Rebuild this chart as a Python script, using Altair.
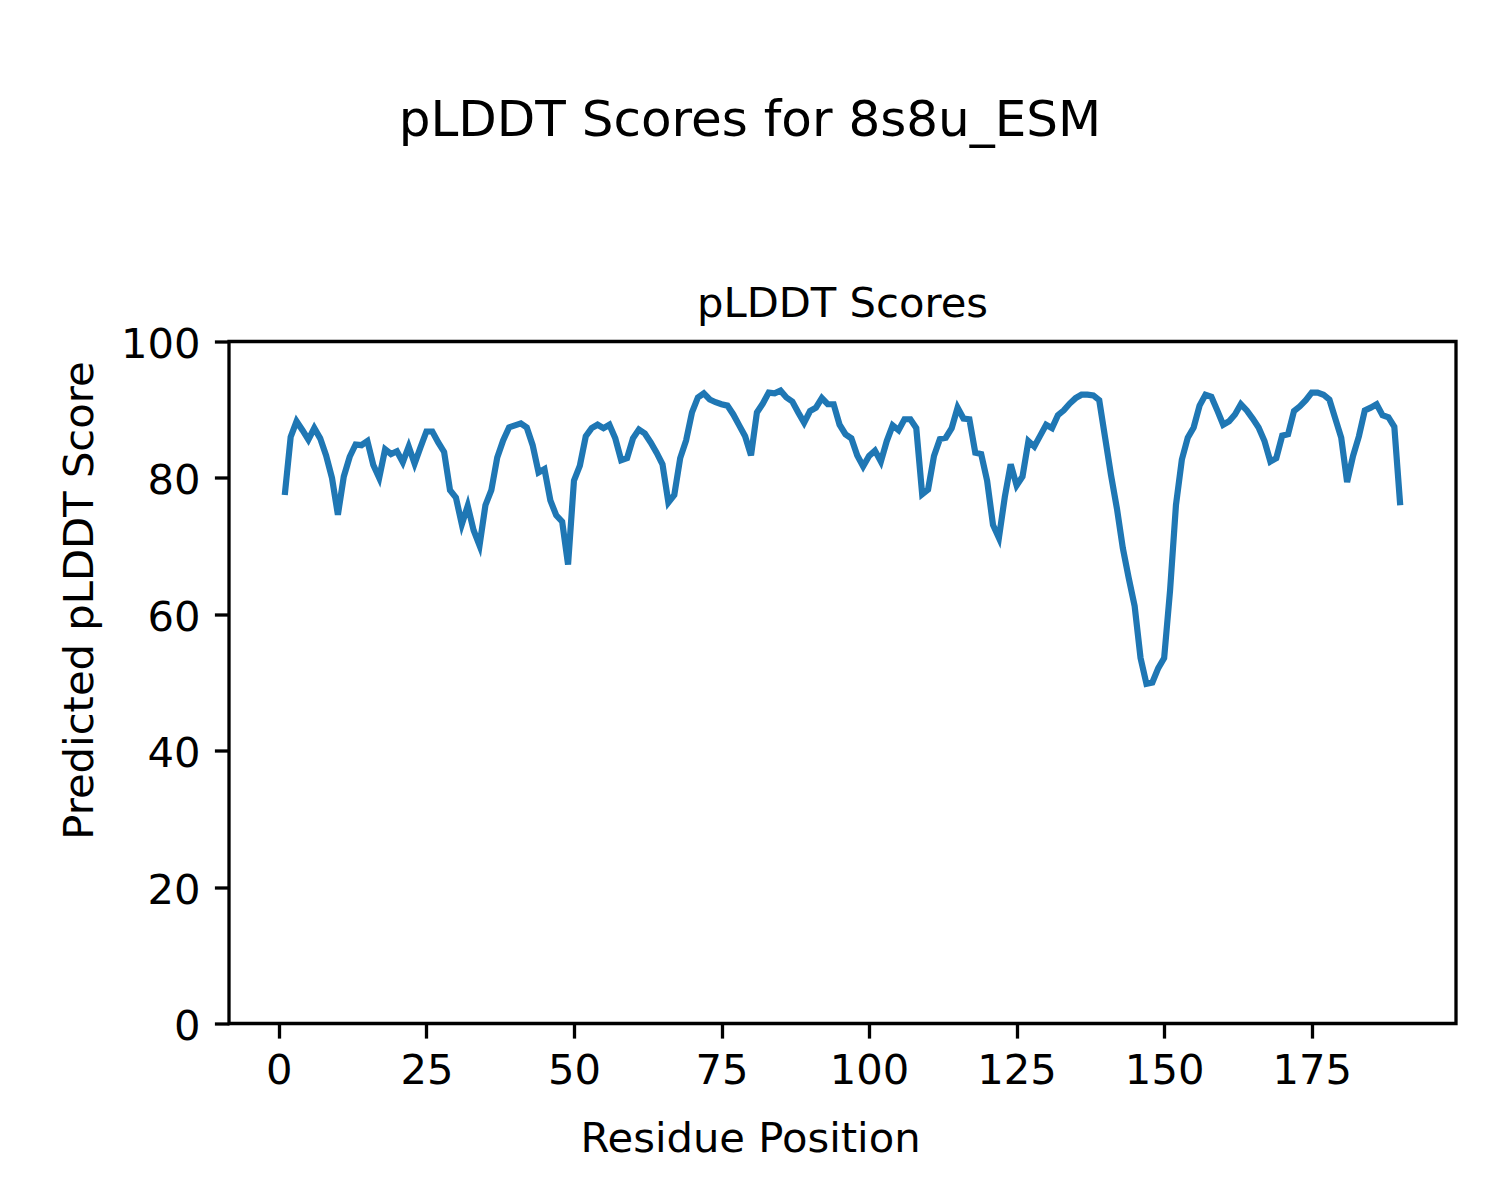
import altair as alt
import pandas as pd

title_main = "pLDDT Scores for 8s8u_ESM"
title_axes = "pLDDT Scores"
x_label = "Residue Position"
y_label = "Predicted pLDDT Score"

residues = list(range(1, 191))
plddt = [
    77.5, 86.0, 88.3, 87.0, 85.6, 87.3, 85.8, 83.3, 80.0, 74.6,
    80.2, 83.1, 84.9, 84.8, 85.4, 81.9, 80.0, 84.2, 83.5, 83.9,
    82.3, 84.6, 82.1, 84.5, 86.8, 86.8, 85.2, 83.8, 78.2, 77.1,
    73.2, 75.9, 72.3, 70.1, 76.0, 78.2, 83.0, 85.5, 87.4, 87.7,
    88.0, 87.4, 84.8, 80.8, 81.3, 76.7, 74.5, 73.6, 67.3, 79.6,
    81.8, 86.1, 87.3, 87.8, 87.3, 87.8, 85.8, 82.6, 82.9, 85.8,
    87.1, 86.5, 85.2, 83.7, 82.0, 76.4, 77.5, 82.9, 85.5, 89.6,
    91.8, 92.4, 91.5, 91.1, 90.8, 90.6, 89.3, 87.7, 86.1, 83.3,
    89.6, 90.9, 92.5, 92.4, 92.8, 91.8, 91.2, 89.6, 88.1, 89.8,
    90.3, 91.7, 90.8, 90.8, 87.8, 86.4, 85.8, 83.3, 81.7, 83.2,
    84.0, 82.4, 85.4, 87.7, 87.0, 88.6, 88.6, 87.3, 77.6, 78.3,
    83.2, 85.7, 85.9, 87.3, 90.3, 88.7, 88.6, 83.7, 83.5, 79.6,
    73.1, 71.2, 77.2, 82.0, 78.9, 80.2, 85.4, 84.6, 86.2, 87.8,
    87.3, 89.2, 89.9, 90.9, 91.7, 92.2, 92.2, 92.1, 91.4, 85.9,
    80.4, 75.5, 69.7, 65.3, 61.2, 53.6, 49.8, 50.0, 52.1, 53.6,
    63.5, 76.0, 82.7, 85.9, 87.4, 90.6, 92.2, 91.9, 89.9, 87.8,
    88.3, 89.3, 90.8, 89.9, 88.7, 87.4, 85.4, 82.4, 82.9, 86.2,
    86.4, 89.8, 90.5, 91.4, 92.5, 92.5, 92.2, 91.5, 88.7, 85.9,
    79.4, 83.2, 86.1, 89.9, 90.3, 90.8, 89.2, 88.9, 87.5, 76.0,
]

x_ticks = [0, 25, 50, 75, 100, 125, 150, 175]
y_ticks = [0, 20, 40, 60, 80, 100]

df = pd.DataFrame({"residue": residues, "plddt": plddt})

W = 1227
H = 682
FONT = "DejaVu Sans"
TICK_FS = 41.7

line = alt.Chart(df).mark_line(color="#1f77b4", strokeWidth=6.2, clip=False).encode(
    x=alt.X(
        "residue:Q",
        scale=alt.Scale(domain=[-8.45, 199.45], nice=False, zero=False),
        axis=alt.Axis(
            values=x_ticks,
            title=x_label,
            titleX=750 - 229,
            titleY=1151 - 1023.3,
            titleAnchor="start",
            titleAlign="center",
            titleBaseline="alphabetic",
            titleFontSize=TICK_FS,
            titleFontWeight="normal",
            titleFont=FONT,
            titleColor="black",
            labelFontSize=TICK_FS,
            labelFont=FONT,
            labelColor="black",
            labelPadding=12.0,
            labelFlush=False,
            tickSize=14.6,
            tickWidth=3.3,
            tickColor="black",
            domain=False,
            grid=False,
        ),
    ),
    y=alt.Y(
        "plddt:Q",
        scale=alt.Scale(domain=[0, 100], nice=False, zero=False),
        axis=alt.Axis(
            values=y_ticks,
            title=y_label,
            titleX=92.5 - 229,
            titleY=600 - 341.5,
            titleAngle=270,
            titleAlign="center",
            titleBaseline="alphabetic",
            titleFontSize=TICK_FS,
            titleFontWeight="normal",
            titleFont=FONT,
            titleColor="black",
            labelFontSize=TICK_FS,
            labelFont=FONT,
            labelColor="black",
            labelPadding=14.4,
            labelOffset=3,
            labelFlush=False,
            tickSize=14.6,
            tickWidth=3.3,
            tickColor="black",
            domain=False,
            grid=False,
        ),
    ),
)

sup = alt.Chart(pd.DataFrame({"t": [title_main]})).mark_text(
    font=FONT, fontSize=50, color="black", align="center", baseline="alphabetic"
).encode(x=alt.value(750 - 229), y=alt.value(136 - 341.5), text="t:N")

axt = alt.Chart(pd.DataFrame({"t": [title_axes]})).mark_text(
    font=FONT, fontSize=TICK_FS, color="black", align="center", baseline="alphabetic"
).encode(x=alt.value(W / 2), y=alt.value(316.5 - 341.5), text="t:N")

chart = (
    alt.layer(line, sup, axt)
    .properties(
        width=W,
        height=H,
        autosize=alt.AutoSizeParams(type="none"),
        padding={"left": 221, "top": 333.5, "right": 30, "bottom": 170},
        background="white",
    )
    .configure_view(stroke="black", strokeWidth=3.3)
)

chart.save("out.html", embed_options={"renderer": "svg", "actions": False})
